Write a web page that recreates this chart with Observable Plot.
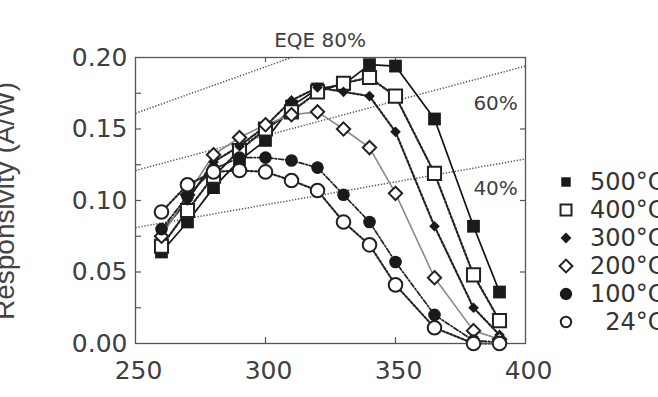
<!DOCTYPE html>
<html>
<head>
<meta charset="utf-8">
<script src="https://cdn.jsdelivr.net/npm/d3@7"></script>
<script src="https://cdn.jsdelivr.net/npm/@observablehq/plot@0.6"></script>
<style>
  body { margin: 0; background: #fff; }
  #wrap { position: relative; width: 658px; height: 397px; overflow: hidden; font-family: "DejaVu Sans", sans-serif; color: #3a3a3a; }
  #ylabel { position: absolute; left: 5px; top: 201px; transform: translate(-50%, -50%) rotate(-90deg); white-space: nowrap; font-family: "Liberation Sans", sans-serif; font-size: 28px; line-height: 28px; color: #444; }
  .lg { position: absolute; left: 556px; height: 28px; display: flex; align-items: center; white-space: pre; font-size: 24px; color: #333; }
  .lg svg { width: 20px; height: 20px; margin-right: 14px; }
</style>
</head>
<body>
<div id="wrap"></div>
<script>
// ---- data ----
const wavelengths = [260, 270, 280, 290, 300, 310, 320, 330, 340, 350, 365, 380, 390];
const r500 = [0.064, 0.085, 0.109, 0.128, 0.142, 0.166, 0.178, 0.181, 0.195, 0.194, 0.157, 0.082, 0.036];
const r400 = [0.068, 0.093, 0.117, 0.135, 0.150, 0.162, 0.176, 0.182, 0.186, 0.173, 0.119, 0.048, 0.016];
const r300 = [0.078, 0.100, 0.127, 0.138, 0.152, 0.170, 0.179, 0.176, 0.173, 0.148, 0.082, 0.025, 0.006];
const r200 = [0.075, 0.104, 0.132, 0.144, 0.153, 0.160, 0.162, 0.150, 0.137, 0.105, 0.046, 0.009, 0.003];
const r100 = [0.080, 0.103, 0.122, 0.130, 0.130, 0.128, 0.123, 0.104, 0.085, 0.057, 0.020, 0.002, 0.001];
const r24  = [0.092, 0.111, 0.120, 0.121, 0.120, 0.114, 0.107, 0.085, 0.069, 0.041, 0.011, 0.000, 0.000];
const seriesNames = ["500°C", "400°C", "300°C", "200°C", "100°C", "24°C"];
const seriesValues = [r500, r400, r300, r200, r100, r24];

// EQE reference lines (end points)
const eqeNames = ["80%", "60%", "40%"];
const eqeX1 = [250, 250, 250];
const eqeR1 = [0.161, 0.121, 0.081];
const eqeX2 = [310, 400, 400];
const eqeR2 = [0.200, 0.194, 0.129];

// axis ticks
const xLabelTicks = [250, 300, 350, 400];
const xInnerTicks = [300, 350];
const yLabelTicks = [0, 0.05, 0.10, 0.15, 0.20];
const yMinorTicks = [0.025, 0.05, 0.075, 0.10, 0.125, 0.15, 0.175];
const yRightTicks = [0.05, 0.10, 0.15];

// ---- styles ----
const styles = [
  {symbol: "square",   fill: "#1a1a1a", stroke: "none", sw: 0, r: 7.2, line: "#111",    dash: null,        lw: 1.7, lsz: 90},
  {symbol: "square",   fill: "#fff",    stroke: "#222", sw: 2, r: 7.4, line: "#222",    dash: "2,2",       lw: 2.2, lsz: 120},
  {symbol: "diamond2", fill: "#1a1a1a", stroke: "none", sw: 0, r: 4.8, line: "#222",    dash: "2,2",       lw: 2.2, lsz: 75},
  {symbol: "diamond2", fill: "#fff",    stroke: "#222", sw: 2, r: 6.0, line: "#8a8a8a", dash: null,        lw: 1.6, lsz: 105},
  {symbol: "circle",   fill: "#1a1a1a", stroke: "none", sw: 0, r: 6.3, line: "#222",    dash: "5,2,1.5,2", lw: 1.7, lsz: 120},
  {symbol: "circle",   fill: "#fff",    stroke: "#222", sw: 2, r: 6.8, line: "#222",    dash: "2,2",       lw: 2.1, lsz: 85}
];

const rows = [];
seriesNames.forEach((name, s) => {
  wavelengths.forEach((w, i) => rows.push({series: name, s, wl: w, r: seriesValues[s][i]}));
});
const eqe = eqeNames.map((n, i) => ({name: n, x1: eqeX1[i], y1: eqeR1[i], x2: eqeX2[i], y2: eqeR2[i]}));
const eqeLabels = [
  {text: "EQE 80%", wl: 321, r: 0.2115},
  {text: "60%", wl: 388.5, r: 0.1675},
  {text: "40%", wl: 388.5, r: 0.108}
];

const lineMarks = [];
const dotMarks = [];
seriesNames.forEach((name, s) => {
  const st = styles[s];
  const d = rows.filter(r => r.s === s);
  lineMarks.push(Plot.line(d, {x: "wl", y: "r", stroke: st.line, strokeWidth: st.lw, strokeDasharray: st.dash}));
  dotMarks.push(Plot.dot(d, {x: "wl", y: "r", symbol: () => st.symbol, r: st.r, fill: st.fill, stroke: st.stroke, strokeWidth: st.sw}));
});

const chart = Plot.plot({
  width: 658, height: 397,
  marginLeft: 135, marginRight: 133, marginTop: 57, marginBottom: 54,
  x: {domain: [250, 400]},
  y: {domain: [0, 0.2]},
  symbol: {type: "identity"},
  style: {fontFamily: "DejaVu Sans, sans-serif", color: "#3a3a3a", background: "transparent", overflow: "visible"},
  marks: [
    Plot.link(eqe, {x1: "x1", y1: "y1", x2: "x2", y2: "y2", stroke: "#555", strokeWidth: 1.5, strokeDasharray: "1.3,1.7"}),
    ...lineMarks,
    // inward ticks
    Plot.ruleY(yMinorTicks, {y: d => d, insetRight: 384, stroke: "#555", strokeWidth: 1.2}),
    Plot.ruleY(yRightTicks, {y: d => d, insetLeft: 385, stroke: "#555", strokeWidth: 1.2}),
    Plot.ruleX(xInnerTicks, {x: d => d, insetBottom: 281, stroke: "#555", strokeWidth: 1.2}),
    Plot.ruleX(xInnerTicks, {x: d => d, insetTop: 280, stroke: "#555", strokeWidth: 1.2}),
    Plot.axisY(yLabelTicks, {anchor: "left", tickSize: 0, tickPadding: 8, tickFormat: d3.format(".2f"), fontSize: 25, label: null, fill: "#3f3f3f"}),
    Plot.axisX(xLabelTicks, {anchor: "bottom", tickSize: 0, tickPadding: 18, dx: 3, tickFormat: d3.format("d"), fontSize: 25, label: null, fill: "#3f3f3f"}),
    Plot.frame({stroke: "#555", strokeWidth: 1.3}),
    ...dotMarks,
    Plot.text(eqeLabels, {x: "wl", y: "r", text: "text", fontSize: 20, fill: "#3f3f3f"})
  ]
});

const wrap = document.getElementById("wrap");
wrap.appendChild(chart);

const yl = document.createElement("div");
yl.id = "ylabel";
yl.textContent = "Responsivity (A/W)";
wrap.appendChild(yl);

// legend
const symbolMap = {square: d3.symbolSquare, diamond2: d3.symbolDiamond2, circle: d3.symbolCircle};
seriesNames.forEach((name, s) => {
  const st = styles[s];
  const row = document.createElement("div");
  row.className = "lg";
  row.style.top = (168 + 28 * s) + "px";
  const svg = d3.create("svg").attr("viewBox", "-10 -10 20 20");
  svg.append("path")
    .attr("d", d3.symbol(symbolMap[st.symbol], st.lsz)())
    .attr("fill", st.fill)
    .attr("stroke", st.stroke === "none" ? null : st.stroke)
    .attr("stroke-width", st.sw);
  row.appendChild(svg.node());
  const label = document.createElement("span");
  label.textContent = name.length < 5 ? "\u2007" + name : name;
  row.appendChild(label);
  wrap.appendChild(row);
});
</script>
</body>
</html>
